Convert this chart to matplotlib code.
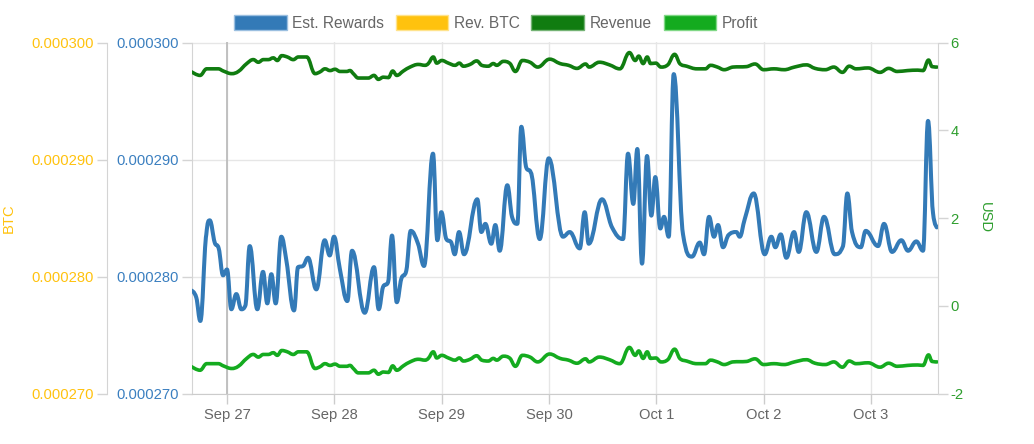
import numpy as np
import pandas as pd
import matplotlib
matplotlib.use('Agg')
import matplotlib.pyplot as plt
import matplotlib.dates as mdates
from matplotlib.patches import Patch, PathPatch
from matplotlib.path import Path
from matplotlib.ticker import FuncFormatter, FixedLocator

plt.rcParams['font.family'] = ['Liberation Sans', 'DejaVu Sans']

# ---------------- data ----------------
start = pd.Timestamp('2017-09-27 00:00')

# Est. Rewards (micro-BTC) -- hours relative to Sep 27 00:00
reward_hours = [-7.98, -6.87, -5.97, -4.63, -3.87, -2.75, -1.86, -0.89, 0.00, 0.96,
                2.08, 3.20, 4.09, 5.08, 6.78, 8.05, 9.01, 9.91, 10.89, 12.14,
                13.26, 14.99, 15.88, 17.00, 18.12, 19.97, 21.85, 22.97, 23.93, 25.21,
                26.91, 27.96, 30.80, 32.88, 33.93, 34.89, 36.01, 36.90, 37.96, 38.98,
                40.10, 41.09, 42.72, 44.06, 46.07, 47.04, 47.93, 49.05, 50.17, 50.93,
                51.89, 53.01, 55.98, 56.88, 57.77, 59.11, 60.01, 60.99, 62.69, 63.74,
                64.93, 65.82, 66.94, 67.93, 69.94, 71.95, 75.15, 76.65, 78.89, 80.00,
                80.90, 83.87, 86.11, 88.57, 89.69, 90.87, 91.77, 92.82, 93.94, 94.90,
                95.79, 96.91, 97.74, 98.79, 99.91, 101.99, 104.00, 105.73, 106.69, 107.81,
                108.92, 109.82, 110.94, 112.06, 113.91, 114.67, 115.79, 117.80, 120.26, 121.74,
                122.64, 123.84, 125.10, 126.82, 127.87, 129.57, 131.81, 133.53, 135.92, 137.78,
                138.74, 139.79, 141.74, 142.85, 145.61, 146.95, 148.74, 150.82, 152.32, 154.17,
                155.67, 156.79, 157.91, 158.80]
est_rewards_ubtc = [278.8, 278.2, 276.2, 283.6, 284.8, 282.9, 282.4, 280.1, 280.6, 277.2,
                    278.5, 277.2, 277.5, 282.6, 277.2, 280.4, 277.7, 280.2, 277.7, 283.4,
                    281.4, 277.1, 280.8, 280.9, 281.6, 278.9, 283.1, 281.8, 283.4, 280.7,
                    277.9, 282.2, 276.9, 280.8, 277.2, 279.1, 279.5, 283.5, 277.8, 279.8,
                    280.5, 283.9, 282.8, 280.9, 290.5, 283.1, 285.5, 283.2, 282.9, 281.9,
                    283.8, 281.9, 286.6, 283.8, 284.5, 282.8, 284.4, 282.2, 287.8, 285.1,
                    284.5, 292.8, 289.3, 288.9, 283.2, 290.1, 283.4, 283.8, 282.4, 285.5,
                    282.8, 286.6, 284.2, 283.2, 290.5, 286.2, 290.9, 281.1, 290.3, 285.2,
                    288.5, 284.1, 285.1, 283.4, 297.3, 283.6, 281.7, 282.9, 281.9, 285.1,
                    283.4, 284.4, 282.5, 283.5, 283.8, 283.4, 284.9, 287.1, 281.9, 283.4,
                    282.5, 283.6, 281.6, 283.8, 282.1, 285.5, 282.1, 285.1, 281.9, 282.6,
                    287.1, 283.8, 282.5, 283.9, 282.6, 284.5, 282.1, 283.1, 282.2, 283.0,
                    282.2, 293.3, 285.4, 284.2]

# Revenue / Profit (USD)
usd_hours = [-7.90, -6.04, -4.54, -1.95, -0.83, 1.05, 2.53, 4.41, 5.88, 7.00,
             8.12, 9.24, 10.36, 11.25, 12.23, 13.49, 14.83, 15.95, 17.83, 19.68,
             20.80, 21.92, 23.04, 24.16, 25.27, 26.77, 27.51, 28.25, 29.37, 31.60,
             32.88, 33.84, 34.96, 36.08, 37.06, 37.96, 39.43, 40.93, 42.79, 44.27,
             45.02, 46.14, 46.90, 48.02, 49.50, 51.00, 51.96, 52.85, 54.35, 55.85,
             56.97, 58.44, 59.56, 60.32, 61.80, 63.30, 64.50, 66.05, 67.77, 69.49,
             72.15, 74.48, 76.38, 78.28, 80.21, 80.97, 83.27, 85.55, 87.86, 90.00,
             91.30, 92.08, 93.07, 93.98, 94.74, 95.91, 97.05, 98.57, 100.11, 101.25,
             102.80, 105.10, 107.00, 108.14, 109.68, 111.20, 113.13, 116.19, 118.09, 120.02,
             122.32, 124.60, 126.91, 129.59, 131.51, 133.80, 135.72, 137.64, 139.16, 140.68,
             143.37, 146.05, 147.97, 149.88, 152.18, 154.48, 155.67, 156.90, 157.68, 158.80]
revenue_usd = [5.33, 5.25, 5.40, 5.40, 5.35, 5.29, 5.34, 5.52, 5.61, 5.55,
               5.61, 5.61, 5.65, 5.59, 5.70, 5.67, 5.61, 5.67, 5.67, 5.29,
               5.33, 5.40, 5.36, 5.39, 5.34, 5.34, 5.36, 5.29, 5.19, 5.19,
               5.25, 5.16, 5.21, 5.20, 5.35, 5.25, 5.35, 5.44, 5.50, 5.48,
               5.52, 5.67, 5.53, 5.59, 5.53, 5.48, 5.53, 5.46, 5.50, 5.58,
               5.48, 5.46, 5.52, 5.48, 5.57, 5.52, 5.34, 5.59, 5.55, 5.44,
               5.62, 5.52, 5.48, 5.41, 5.51, 5.44, 5.55, 5.49, 5.40, 5.77,
               5.59, 5.69, 5.52, 5.67, 5.52, 5.53, 5.44, 5.49, 5.73, 5.52,
               5.46, 5.40, 5.40, 5.48, 5.44, 5.38, 5.44, 5.45, 5.51, 5.38,
               5.40, 5.38, 5.44, 5.49, 5.41, 5.38, 5.44, 5.32, 5.46, 5.40,
               5.42, 5.32, 5.41, 5.34, 5.36, 5.37, 5.36, 5.60, 5.45, 5.44]
profit_usd = [-1.39, -1.47, -1.32, -1.32, -1.37, -1.43, -1.38, -1.20, -1.11, -1.17,
              -1.11, -1.11, -1.07, -1.13, -1.02, -1.05, -1.11, -1.05, -1.05, -1.43,
              -1.39, -1.32, -1.36, -1.33, -1.38, -1.38, -1.36, -1.43, -1.53, -1.53,
              -1.47, -1.56, -1.51, -1.52, -1.37, -1.47, -1.37, -1.28, -1.22, -1.24,
              -1.20, -1.05, -1.19, -1.13, -1.19, -1.24, -1.19, -1.26, -1.22, -1.14,
              -1.24, -1.26, -1.20, -1.24, -1.15, -1.20, -1.38, -1.13, -1.17, -1.28,
              -1.10, -1.20, -1.24, -1.31, -1.21, -1.28, -1.17, -1.23, -1.32, -0.95,
              -1.13, -1.03, -1.20, -1.05, -1.20, -1.19, -1.28, -1.23, -0.99, -1.20,
              -1.26, -1.32, -1.32, -1.24, -1.28, -1.34, -1.28, -1.27, -1.21, -1.34,
              -1.32, -1.34, -1.28, -1.23, -1.31, -1.34, -1.28, -1.40, -1.26, -1.32,
              -1.30, -1.40, -1.31, -1.38, -1.36, -1.35, -1.36, -1.12, -1.27, -1.28]

series_names = ['Est. Rewards', 'Rev. BTC', 'Revenue', 'Profit']
series_colors = ['#337ab7', '#ffc20e', '#107c10', '#14ab1f']
series_edges = ['#9bbfe0', '#ffe38c', '#74b374', '#80d886']
btc_ticks = [270, 280, 290, 300]          # micro-BTC
usd_ticks = [-2, 0, 2, 4, 6]
date_ticks = pd.date_range('2017-09-27', '2017-10-03', freq='D')
x_range_hours = [-7.9, 158.95]

# ---------------- styling ----------------
GRID = '#e6e6e6'
AXLINE = '#d4d4d4'
TEXT_GRAY = '#666666'
YELLOW = '#ffc20e'
BLUE = '#3a7fc0'
GREEN_AX = '#2e9e2e'
FS = 10.6
LEG_FS = 11.2


def spline_path(xs, ys, smoothing=1.5):
    """Smooth Bezier path through the data points (Highcharts-style spline)."""
    xs = np.asarray(xs, float)
    ys = np.asarray(ys, float)
    n = len(xs)
    lx, ly, rx, ry = xs.copy(), ys.copy(), xs.copy(), ys.copy()
    for i in range(1, n - 1):
        px, py = xs[i], ys[i]
        ax_, ay_ = xs[i - 1], ys[i - 1]
        nx_, ny_ = xs[i + 1], ys[i + 1]
        lcx = (smoothing * px + ax_) / (smoothing + 1)
        lcy = (smoothing * py + ay_) / (smoothing + 1)
        rcx = (smoothing * px + nx_) / (smoothing + 1)
        rcy = (smoothing * py + ny_) / (smoothing + 1)
        if rcx != lcx:
            corr = (rcy - lcy) * (rcx - px) / (rcx - lcx) + py - rcy
            lcy += corr
            rcy += corr
        if lcy > ay_ and lcy > py:
            lcy = max(ay_, py)
            rcy = 2 * py - lcy
        elif lcy < ay_ and lcy < py:
            lcy = min(ay_, py)
            rcy = 2 * py - lcy
        if rcy > ny_ and rcy > py:
            rcy = max(ny_, py)
            lcy = 2 * py - rcy
        elif rcy < ny_ and rcy < py:
            rcy = min(ny_, py)
            lcy = 2 * py - rcy
        lx[i], ly[i], rx[i], ry[i] = lcx, lcy, rcx, rcy
    verts = [(xs[0], ys[0])]
    codes = [Path.MOVETO]
    for i in range(n - 1):
        verts += [(rx[i], ry[i]), (lx[i + 1], ly[i + 1]), (xs[i + 1], ys[i + 1])]
        codes += [Path.CURVE4] * 3
    return Path(verts, codes)


def draw_spline(axis, times, values, color, lw):
    xnum = mdates.date2num(times)
    patch = PathPatch(spline_path(xnum, values), facecolor='none', edgecolor=color,
                      lw=lw, joinstyle='round', capstyle='round', zorder=3)
    axis.add_patch(patch)


t_rew = start + pd.to_timedelta(reward_hours, unit='h')
t_usd = start + pd.to_timedelta(usd_hours, unit='h')
xlim = [mdates.date2num(start + pd.Timedelta(hours=h)) for h in x_range_hours]

fig = plt.figure(figsize=(10.34, 4.44), dpi=100)
ax = fig.add_axes([191.7 / 1034, 50.5 / 444, 746 / 1034, 351 / 444])
ax_y = ax.twinx()
ax_r = ax.twinx()

# main (blue) BTC axis
draw_spline(ax, t_rew, est_rewards_ubtc, series_colors[0], 2.9)
ax.set_xlim(xlim)
ax.set_ylim(btc_ticks[0], btc_ticks[-1])
ax.yaxis.set_major_locator(FixedLocator(btc_ticks))
fmt_btc = FuncFormatter(lambda v, p: f'{v / 1e6:.6f}')
ax.yaxis.set_major_formatter(fmt_btc)
ax.xaxis.set_major_locator(FixedLocator(mdates.date2num(date_ticks)))
ax.xaxis.set_major_formatter(mdates.DateFormatter('%b %-d'))
ax.grid(True, color=GRID, lw=1)
ax.set_axisbelow(True)
for s in ['top', 'right']:
    ax.spines[s].set_visible(False)
ax.spines['left'].set_color(AXLINE)
ax.spines['bottom'].set_color('#cccccc')
ax.tick_params(axis='y', colors=AXLINE, labelcolor=BLUE, length=7.2, width=1,
               labelsize=FS, pad=2)
ax.tick_params(axis='x', colors='#cccccc', labelcolor=TEXT_GRAY, length=7.2,
               width=1, labelsize=FS, pad=3)
ax.axvline(mdates.date2num(date_ticks[0]), color='#bdbdbd', lw=1.3, zorder=1)

# yellow BTC axis
ax_y.set_ylim(btc_ticks[0], btc_ticks[-1])
ax_y.yaxis.set_major_locator(FixedLocator(btc_ticks))
ax_y.yaxis.set_major_formatter(fmt_btc)
ax_y.yaxis.tick_left()
for s in ['top', 'right', 'bottom']:
    ax_y.spines[s].set_visible(False)
ax_y.spines['left'].set_visible(True)
ax_y.spines['left'].set_position(('axes', (107 - 191.7) / 746))
ax_y.spines['left'].set_color(AXLINE)
ax_y.tick_params(axis='y', colors=AXLINE, labelcolor=YELLOW, length=7.2, width=1,
                 labelsize=FS, pad=2)

# right USD axis
draw_spline(ax_r, t_usd, revenue_usd, series_colors[2], 2.6)
draw_spline(ax_r, t_usd, profit_usd, series_colors[3], 2.6)
ax_r.set_xlim(xlim)
ax_r.set_ylim(usd_ticks[0], usd_ticks[-1])
ax_r.yaxis.set_major_locator(FixedLocator(usd_ticks))
ax_r.yaxis.set_major_formatter(FuncFormatter(lambda v, p: f'{v:g}'))
for s in ['top', 'left', 'bottom']:
    ax_r.spines[s].set_visible(False)
ax_r.spines['right'].set_color(AXLINE)
ax_r.tick_params(axis='y', colors=AXLINE, labelcolor=GREEN_AX, length=7.2, width=1,
                 labelsize=FS, pad=2)

fig.text(9 / 1034, 1 - 218 / 444, 'BTC', rotation=90, color=YELLOW,
         fontsize=FS, ha='center', va='center')
fig.text(985 / 1034, 1 - 218 / 444, 'USD', rotation=-90, color=GREEN_AX,
         fontsize=FS, ha='center', va='center')

handles = [Patch(facecolor=c, edgecolor=e, lw=1) for c, e in zip(series_colors, series_edges)]
fig.legend(handles, series_names, loc='center', bbox_to_anchor=(496 / 1034, 1 - 23 / 444),
           ncol=4, frameon=False, handlelength=3.4, handleheight=1.15,
           handletextpad=0.35, columnspacing=0.75, fontsize=LEG_FS, labelcolor=TEXT_GRAY)

fig.savefig('out.png', dpi=100)
